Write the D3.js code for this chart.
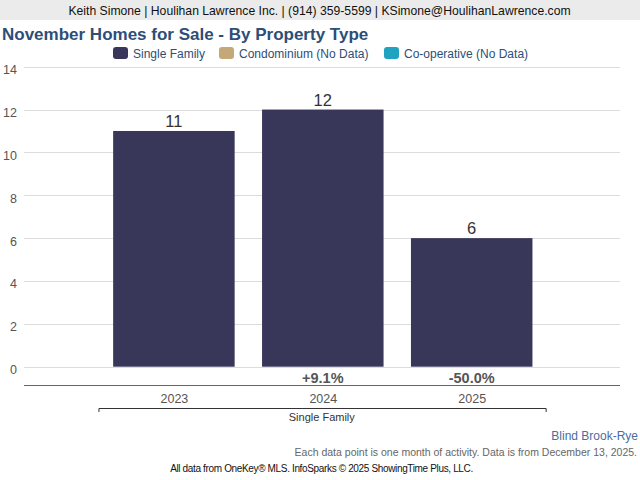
<!DOCTYPE html>
<html>
<head>
<meta charset="utf-8">
<script src="https://cdn.jsdelivr.net/npm/d3@7"></script>
<style>
html,body{margin:0;padding:0;background:#fff;}
svg{display:block;font-family:"Liberation Sans",Arial,Helvetica,sans-serif;}
</style>
</head>
<body>
<svg id="chart" width="640" height="480"></svg>
<script>
const years = ["2023", "2024", "2025"];
const values = [11, 12, 6];
const pctChanges = [null, "+9.1%", "-50.0%"];
const yTicks = [0, 2, 4, 6, 8, 10, 12, 14];
const groupLabel = "Single Family";
const legendLabels = ["Single Family", "Condominium (No Data)", "Co-operative (No Data)"];
const legendColors = ["#38375a", "#c4a878", "#21a2c0"];

const svg = d3.select("#chart");

// header
svg.append("rect").attr("x",0).attr("y",0).attr("width",640).attr("height",20).attr("fill","#ebebeb");
svg.append("text").attr("x",319.5).attr("y",15).attr("text-anchor","middle")
  .attr("font-size",12.2).attr("fill","#111")
  .text("Keith Simone | Houlihan Lawrence Inc. | (914) 359-5599 | KSimone@HoulihanLawrence.com");

// title
svg.append("text").attr("x",2).attr("y",40).attr("font-size",17).attr("font-weight","bold")
  .attr("fill","#2c4e78").text("November Homes for Sale - By Property Type");

// legend
const legendX = [113, 219, 384];
const lg = svg.append("g");
legendLabels.forEach((lab, i) => {
  lg.append("rect").attr("x",legendX[i]).attr("y",47).attr("width",15).attr("height",12)
    .attr("rx",3).attr("fill",legendColors[i]);
  lg.append("text").attr("x",legendX[i]+20).attr("y",57.5).attr("font-size",12)
    .attr("fill","#2c4e78").text(lab);
});

// scales
const y = d3.scaleLinear().domain([0,14]).range([366.7, 66.7]);
const x = d3.scaleLinear().domain([0,4]).range([25, 620.6]);
const barW = 121.5;

// grid
const grid = svg.append("g");
grid.selectAll("line").data(yTicks).join("line")
  .attr("x1",24).attr("x2",620)
  .attr("y1",d=>Math.round(y(d))+0.5).attr("y2",d=>Math.round(y(d))+0.5)
  .attr("stroke","#dcdcdc").attr("stroke-width",1);

// y axis labels via d3 axis
const yAxis = d3.axisLeft(y).tickValues(yTicks).tickSize(0).tickPadding(0);
const yg = svg.append("g").attr("transform","translate(17,0)").call(yAxis);
yg.select(".domain").remove();
yg.selectAll("text").attr("font-size",12.5).attr("fill","#555")
  .attr("font-family","'Liberation Sans',Arial,sans-serif").attr("dy","0.55em").attr("text-anchor","end");

// bars
svg.append("g").selectAll("rect").data(values).join("rect")
  .attr("x",(d,i)=>x(i+1)-barW/2)
  .attr("y",d=>y(d))
  .attr("width",barW)
  .attr("height",d=>y(0)-y(d))
  .attr("fill",legendColors[0]);

// value labels
svg.append("g").selectAll("text").data(values).join("text")
  .attr("x",(d,i)=>x(i+1)).attr("y",d=>y(d)-4)
  .attr("text-anchor","middle").attr("font-size",16.5).attr("fill","#333")
  .text(d=>d);

// pct labels
svg.append("g").selectAll("text").data(pctChanges).join("text")
  .attr("x",(d,i)=>x(i+1)).attr("y",383)
  .attr("text-anchor","middle").attr("font-size",14.5).attr("font-weight","bold").attr("fill","#555")
  .text(d=>d || "");

// bottom axis line
svg.append("line").attr("x1",24).attr("x2",620).attr("y1",385.5).attr("y2",385.5)
  .attr("stroke","#666").attr("stroke-width",1);

// year labels
const xAxis = d3.axisBottom(x).tickValues([1,2,3]).tickFormat((d)=>years[d-1]).tickSize(0).tickPadding(0);
const xg = svg.append("g").attr("transform","translate(0,394)").call(xAxis);
xg.select(".domain").remove();
xg.selectAll("text").attr("font-size",12.5).attr("fill","#555")
  .attr("font-family","'Liberation Sans',Arial,sans-serif").attr("dy","0.72em");

// bracket
svg.append("path")
  .attr("d",`M${x(0.5)-0.5},412V408.5H${x(3.5)}V412`)
  .attr("fill","none").attr("stroke","#333").attr("stroke-width",1);
svg.append("text").attr("x",x(2)-1).attr("y",420.5).attr("text-anchor","middle")
  .attr("font-size",11).attr("fill","#333").text(groupLabel);

// footer
svg.append("text").attr("x",638).attr("y",439.5).attr("text-anchor","end")
  .attr("font-size",12).attr("fill","#4a6e9e").text("Blind Brook-Rye");
svg.append("text").attr("x",637).attr("y",456).attr("text-anchor","end")
  .attr("font-size",10.5).attr("fill","#666")
  .text("Each data point is one month of activity. Data is from December 13, 2025.");
svg.append("text").attr("x",321.5).attr("y",472).attr("text-anchor","middle")
  .attr("font-size",10).attr("fill","#111").attr("letter-spacing","-0.35")
  .text("All data from OneKey® MLS. InfoSparks © 2025 ShowingTime Plus, LLC.");
</script>
</body>
</html>
